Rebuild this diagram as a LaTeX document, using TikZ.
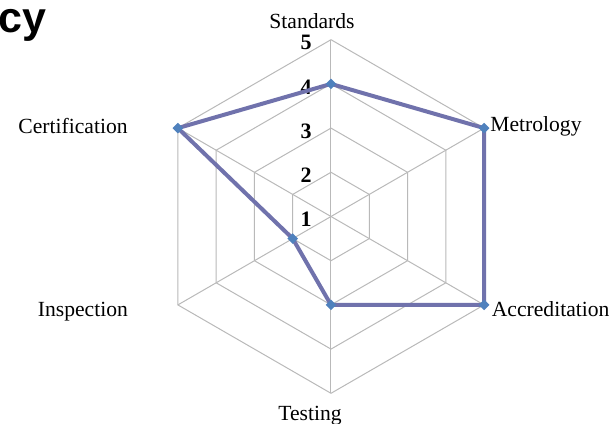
\documentclass[tikz,border=0pt]{standalone}
\usepackage{fontspec}
\setmainfont{Liberation Serif}
\newfontfamily\titlefont{Liberation Sans}
\usepackage{xcolor}
\usetikzlibrary{shapes,positioning,calc}
\definecolor{gridgray}{RGB}{185,185,185}
\definecolor{serline}{RGB}{112,114,172}
\definecolor{sermark}{RGB}{79,129,189}
\tikzset{
  axlabel/.style={font=\fontsize{10.8}{12}\selectfont,inner sep=0pt},
  lvlabel/.style={font=\fontsize{11}{12}\selectfont\bfseries,inner sep=0pt,anchor=east},
  datamark/.style={diamond,fill=sermark,inner sep=0pt,minimum size=5.5pt}
}

\begin{document}
\begin{tikzpicture}[x=0.5pt,y=0.5pt]
    \useasboundingbox (-331,-207.5) rectangle (281,216.5);
    % grid
    \foreach \r in {44.2,88.4,132.6,176.8}
        \draw[gridgray,line width=0.5pt] (90:\r) -- (30:\r) -- (-30:\r) -- (-90:\r) -- (210:\r) -- (150:\r) -- cycle;
    \foreach \a in {90,30,-30,-90,210,150}
        \draw[gridgray,line width=0.5pt] (0,0) -- (\a:176.8);
    % scale
    \foreach \v/\r in {1/0,2/44.2,3/88.4,4/132.6,5/176.8}
        \node[lvlabel] (lv\v) at (-19,\r-3) {\v};
    % series
    \coordinate (std) at (90:132.6);
    \coordinate (met) at (30:176.8);
    \coordinate (acc) at (-30:176.8);
    \coordinate (tst) at (-90:88.4);
    \coordinate (ins) at (210:44.2);
    \coordinate (cer) at (150:176.8);
    \draw[serline,line width=2pt,line join=round] (std) -- (met) -- (acc) -- (tst) -- (ins) -- (cer) -- cycle;
    \foreach \p in {std,met,acc,tst,ins,cer}
        \node[datamark] (\p-m) at (\p) {};
    % axis names
    \node[axlabel,anchor=base] (stdname) at (-19,188.5) {Standards};
    \node[axlabel,anchor=base west] (metname) at (159,85) {Metrology};
    \node[axlabel,anchor=base west] (accname) at (160.5,-99.5) {Accreditation};
    \node[axlabel,anchor=base] (tstname) at (-21,-203.5) {Testing};
    \node[axlabel,anchor=base east] (insname) at (-202.7,-100.2) {Inspection};
    \node[axlabel,anchor=base east] (cername) at (-203,83.5) {Certification};
    % cut title
    \node[font=\titlefont\fontsize{21.5}{23}\selectfont\bfseries,inner sep=0pt,anchor=base west] (title) at (-333,184.5) {cy};
\end{tikzpicture}
\end{document}
